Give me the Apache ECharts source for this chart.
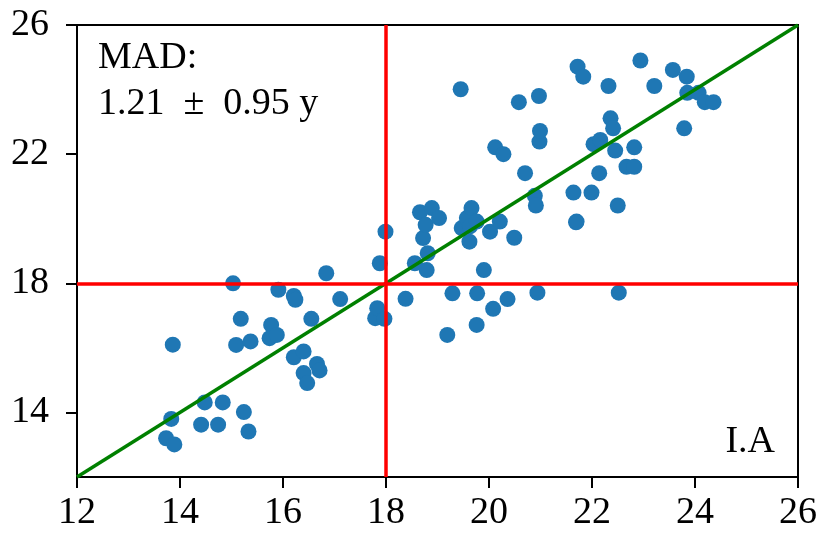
<!DOCTYPE html>
<html>
<head>
<meta charset="utf-8">
<script src="https://cdn.jsdelivr.net/npm/echarts@6/dist/echarts.min.js"></script>
<style>
    html, body { margin: 0; padding: 0; background: #fff; }
    #chart { width: 830px; height: 554px; }
</style>
</head>
<body>
<div id="chart"></div>
<script>
    // reference (I.A) values on x, predicted values on y
    var refAge = [
        13.73, 13.89, 13.83, 13.86, 14.48, 14.41, 14.74, 14.83, 15.24, 15.33,
        15.03, 15.09, 15.18, 15.37, 15.77, 15.74, 15.88, 15.91, 16.21, 16.24,
        16.21, 16.40, 16.40, 16.47, 16.55, 16.66, 16.71, 16.84, 17.11, 17.79,
        17.83, 17.88, 17.97, 17.99,
        18.38, 18.56, 18.66, 18.72, 18.77, 18.79, 18.81, 18.89, 19.03, 19.19,
        19.29, 19.45, 19.47, 19.57, 19.62, 19.63, 19.66, 19.76, 19.76, 19.77,
        19.90, 20.02, 20.08, 20.12, 20.21, 20.28, 20.36, 20.49, 20.58, 20.70,
        20.89, 20.91, 20.94, 20.97, 20.98, 20.99,
        21.64, 21.69, 21.70, 21.72, 21.83, 21.99, 22.03, 22.14, 22.16, 22.32,
        22.36, 22.41, 22.45, 22.50, 22.52, 22.67, 22.82, 22.82, 22.94, 23.21,
        23.57, 23.79, 23.84, 23.85, 24.07, 24.19, 24.36
    ];
    var predAge = [
        13.20, 13.01, 13.80, 16.10, 14.31, 13.62, 13.62, 14.31, 14.01, 13.41,
        18.00, 16.09, 16.90, 16.20, 16.71, 16.30, 16.40, 17.80, 17.61, 17.49,
        15.71, 15.89, 15.22, 14.91, 16.90, 15.50, 15.30, 18.31, 17.51, 16.92,
        17.23, 18.62, 16.90, 19.60,
        17.52, 18.62, 20.20, 19.40, 19.81, 18.41, 18.93, 20.33, 20.02, 16.40,
        17.69, 24.01, 19.71, 20.02, 19.29, 19.76, 20.33, 19.91, 16.71, 17.69,
        18.41, 19.60, 17.21, 22.21, 19.91, 22.00, 17.51, 19.41, 23.61, 21.41,
        20.71, 20.41, 17.71, 23.80, 22.39, 22.72,
        20.81, 19.89, 19.91, 24.71, 24.40, 20.81, 22.31, 21.41, 22.44, 24.11,
        23.11, 22.80, 22.11, 20.41, 17.71, 21.61, 21.61, 22.21, 24.90, 24.11,
        24.61, 22.80, 24.40, 23.90, 23.90, 23.61, 23.61
    ];
    var xTicks = [12, 14, 16, 18, 20, 22, 24, 26];
    var yTicks = [14, 18, 22, 26];
    var diagonal = [12, 26];
    var threshold = 18;

    var chart = echarts.init(document.getElementById('chart'));

    var points = [];
    for (var i = 0; i < refAge.length; i++) {
        points.push([refAge[i], predAge[i]]);
    }

    var font = '"Liberation Serif", "DejaVu Serif", serif';

    var opt = {
        animation: false,
        grid: {
            left: 77, right: 32, top: 25, bottom: 77,
            show: true, borderColor: '#000', borderWidth: 2,
            backgroundColor: '#fff'
        },
        xAxis: {
            type: 'value',
            min: xTicks[0],
            max: xTicks[xTicks.length - 1],
            interval: 2,
            splitLine: { show: false },
            axisLine: { show: true, lineStyle: { color: '#000', width: 2 } },
            axisTick: { show: true, inside: false, length: 11, lineStyle: { color: '#000', width: 2 } },
            axisLabel: { color: '#000', fontFamily: font, fontSize: 38, margin: 17 }
        },
        yAxis: {
            type: 'value',
            min: 12,
            max: 26,
            splitLine: { show: false },
            axisLine: { show: true, lineStyle: { color: '#000', width: 2 } },
            axisTick: { show: true, inside: false, length: 11, customValues: yTicks,
                lineStyle: { color: '#000', width: 2 } },
            axisLabel: { color: '#000', fontFamily: font, fontSize: 38, margin: 28,
                customValues: yTicks }
        },
        series: [
            {
                type: 'scatter',
                data: points,
                symbolSize: 16,
                itemStyle: { color: '#1f77b4', opacity: 1 },
                z: 2
            },
            {
                type: 'line',
                data: [[diagonal[0], diagonal[0]], [diagonal[1], diagonal[1]]],
                symbol: 'none',
                lineStyle: { color: '#008000', width: 3.5 },
                z: 4
            },
            {
                type: 'line',
                data: [],
                z: 3,
                markLine: {
                    silent: true,
                    symbol: 'none',
                    label: { show: false },
                    lineStyle: { color: '#ff0000', width: 3.5, type: 'solid' },
                    data: [{ xAxis: threshold }, { yAxis: threshold }]
                }
            }
        ],
        graphic: [
            {
                type: 'text', left: 98, top: 35,
                style: {
                    text: 'MAD:\n1.21  ±  0.95 y',
                    fontFamily: font, fontSize: 38, lineHeight: 46, fill: '#000'
                }
            },
            {
                type: 'text', right: 55, top: 423,
                style: { text: 'I.A', fontFamily: font, fontSize: 38, fill: '#000' }
            }
        ]
    };
    chart.setOption(opt, true);
</script>
</body>
</html>
